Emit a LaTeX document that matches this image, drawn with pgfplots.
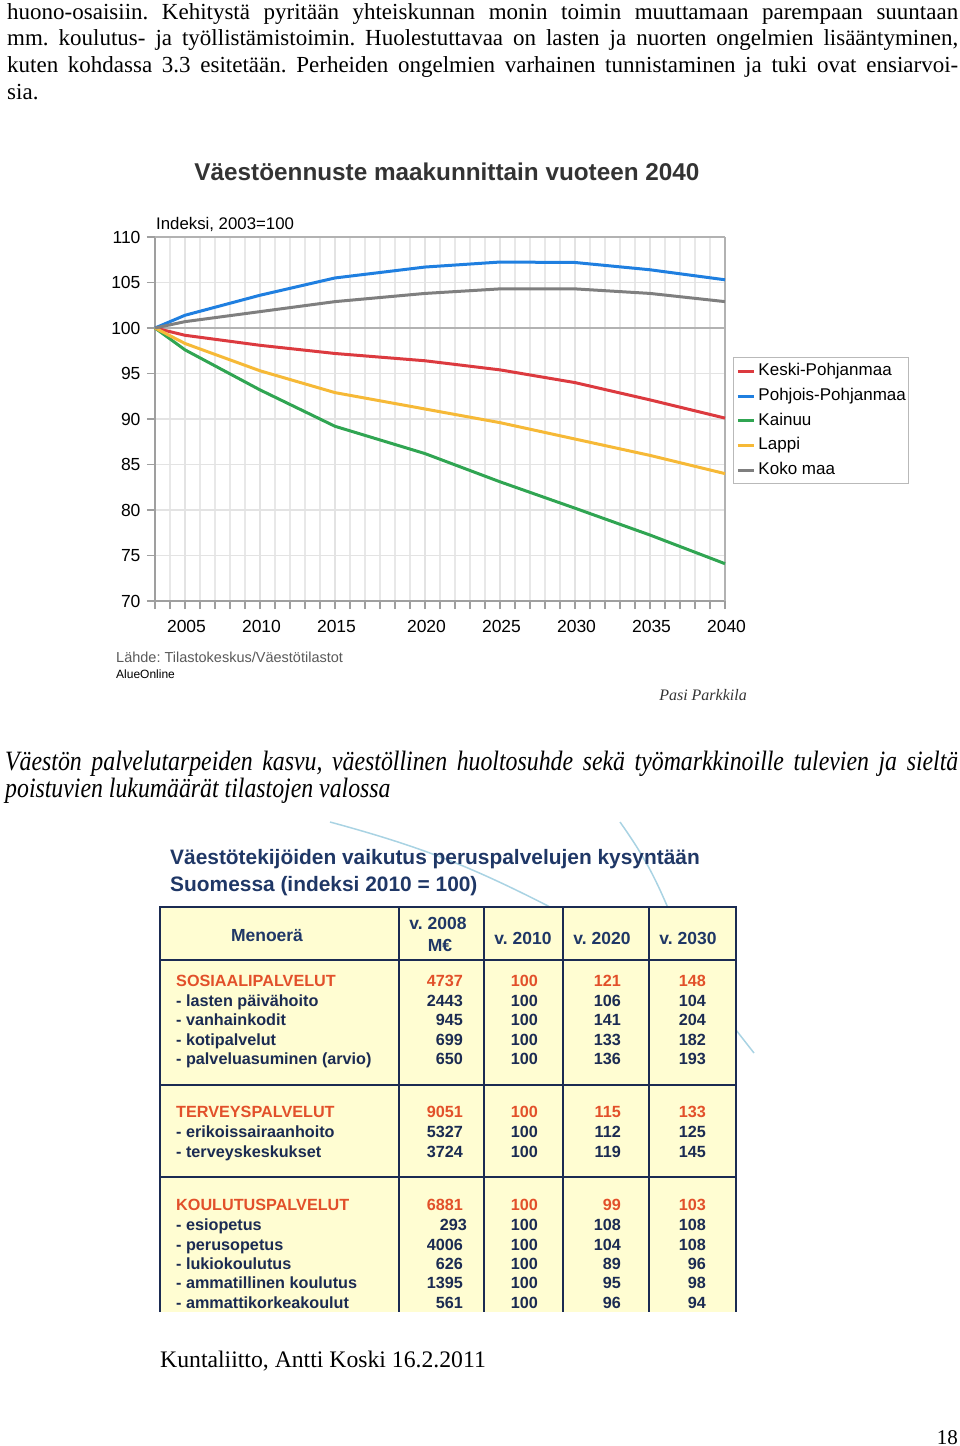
\documentclass[border=0pt]{standalone}
\usepackage{pgfplots}
\pgfplotsset{compat=1.18}
\usepackage{pgfplotstable}
\usepackage{fontspec}
\setmainfont{Liberation Serif}
\newfontfamily\arial{Liberation Sans}
\newfontfamily\condit[FakeStretch=0.85]{Liberation Serif}
\frenchspacing
\definecolor{cred}{HTML}{DC3A3F}
\definecolor{cblue}{HTML}{1F7FE0}
\definecolor{cgreen}{HTML}{30A552}
\definecolor{cyellow}{HTML}{F6B937}
\definecolor{cgray}{HTML}{7F7F7F}
\definecolor{navy}{HTML}{1B2B52}
\definecolor{tnavy}{HTML}{1F3766}
\definecolor{orng}{HTML}{E2502A}
\definecolor{tyellow}{HTML}{FFFDD2}
\definecolor{lblue}{HTML}{A9D3E3}
\definecolor{ttl}{HTML}{333333}

\pgfplotstableread{
x kp pp ka la km
0 100 100 100 100 100
2 99.2 101.4 97.6 98.3 100.7
7 98.1 103.6 93.2 95.3 101.8
12 97.2 105.5 89.2 92.9 102.9
18 96.4 106.7 86.2 91.1 103.8
23 95.4 107.25 83.1 89.6 104.3
28 94.0 107.2 80.2 87.8 104.3
33 92.1 106.4 77.25 86.0 103.8
38 90.1 105.3 74.1 84.0 102.9
}\data

\newcommand{\trow}[7]{%
  \node[tl, text=#7] at (176,#1) {#2};
  \node[tr, text=#7] at (463,#1) {#3};
  \node[tr, text=#7] at (538,#1) {#4};
  \node[tr, text=#7] at (621,#1) {#5};
  \node[tr, text=#7] at (706,#1) {#6};
}

\begin{document}
\begin{tikzpicture}
\path[use as bounding box] (0,0) rectangle (960pt,-1446pt);
\begin{scope}[x=1pt,y=-1pt,
  tl/.style={anchor=base west, inner sep=0, font=\arial\bfseries\fontsize{16.2}{16}\selectfont},
  tr/.style={anchor=base east, inner sep=0, font=\arial\bfseries\fontsize{16.2}{16}\selectfont},
  th/.style={anchor=base, inner sep=0, font=\arial\bfseries\fontsize{17.5}{17.5}\selectfont, text=tnavy}]
% top paragraph
\node[anchor=base west, inner sep=0] at (7,19) {\fontsize{23}{26.7}\selectfont\makebox[951pt][s]{huono-osaisiin. Kehitystä pyritään yhteiskunnan monin toimin muuttamaan parempaan suuntaan}};
\node[anchor=base west, inner sep=0] at (7,45.7) {\fontsize{23}{26.7}\selectfont\makebox[951pt][s]{mm. koulutus- ja työllistämistoimin. Huolestuttavaa on lasten ja nuorten ongelmien lisääntyminen,}};
\node[anchor=base west, inner sep=0] at (7,72.4) {\fontsize{23}{26.7}\selectfont\makebox[951pt][s]{kuten kohdassa 3.3 esitetään. Perheiden ongelmien varhainen tunnistaminen ja tuki ovat ensiarvoi-}};
\node[anchor=base west, inner sep=0] at (7,99.1) {\fontsize{23}{26.7}\selectfont sia.};
% chart texts
\node[anchor=base, inner sep=0, text=ttl] at (447,180) {\arial\bfseries\fontsize{24.3}{24}\selectfont Väestöennuste maakunnittain vuoteen 2040};
\node[anchor=base west, inner sep=0] at (156,229) {\arial\fontsize{16.8}{16}\selectfont Indeksi, 2003=100};
\node[anchor=base west, inner sep=0, text=black!65] at (116,662) {\arial\fontsize{14.5}{14}\selectfont Lähde: Tilastokeskus/Väestötilastot};
\node[anchor=base west, inner sep=0] at (116,678.5) {\arial\fontsize{12}{12}\selectfont AlueOnline};
\node[anchor=base east, inner sep=0, text=black!80] at (747,700) {\fontsize{16}{16}\selectfont\itshape Pasi Parkkila};
% italic heading
\node[anchor=base west, inner sep=0] at (5,770) {\condit\itshape\fontsize{28}{27}\selectfont\makebox[953pt][s]{Väestön palvelutarpeiden kasvu, väestöllinen huoltosuhde sekä työmarkkinoille tulevien ja sieltä}};
\node[anchor=base west, inner sep=0] at (5,797) {\condit\itshape\fontsize{28}{27}\selectfont poistuvien lukumäärät tilastojen valossa};
% decorative lines
\draw[lblue, line width=1.5pt] (330,822) to[bend left=6] (552,908);
\draw[lblue, line width=1.5pt] (620,822) to[bend left=6] (668,908);
\draw[lblue, line width=1.5pt] (736,1030) -- (754,1053);
% table image title
\node[anchor=base west, inner sep=0, text=tnavy] at (170,864) {\arial\bfseries\fontsize{20.9}{21}\selectfont Väestötekijöiden vaikutus peruspalvelujen kysyntään};
\node[anchor=base west, inner sep=0, text=tnavy] at (170,891) {\arial\bfseries\fontsize{20.9}{21}\selectfont Suomessa (indeksi 2010 = 100)};
% table
\fill[tyellow] (160,907) rectangle (736,1312);
\draw[navy, line width=2pt] (160,1312) -- (160,907) -- (736,907) -- (736,1312);
\foreach \xx in {399,484,563,649} \draw[navy, line width=2.2pt] (\xx,907) -- (\xx,1312);
\foreach \yy in {960,1085,1177} \draw[navy, line width=2.2pt] (160,\yy) -- (736,\yy);
\node[th] at (267,941) {Menoerä};
\node[th] at (438,929) {v. 2008};
\node[th] at (440,951) {M€};
\node[th] at (523,944) {v. 2010};
\node[th] at (602,944) {v. 2020};
\node[th] at (688,944) {v. 2030};
\trow{986}{SOSIAALIPALVELUT}{4737}{100}{121}{148}{orng}
\trow{1006}{- lasten päivähoito}{2443}{100}{106}{104}{navy}
\trow{1025}{- vanhainkodit}{945}{100}{141}{204}{navy}
\trow{1045}{- kotipalvelut}{699}{100}{133}{182}{navy}
\trow{1064}{- palveluasuminen (arvio)}{650}{100}{136}{193}{navy}
\trow{1117}{TERVEYSPALVELUT}{9051}{100}{115}{133}{orng}
\trow{1137}{- erikoissairaanhoito}{5327}{100}{112}{125}{navy}
\trow{1157}{- terveyskeskukset}{3724}{100}{119}{145}{navy}
\trow{1210}{KOULUTUSPALVELUT}{6881}{100}{99}{103}{orng}
\node[tl, text=navy] at (176,1230) {- esiopetus};
\node[tr, text=navy] at (467,1230) {293};
\node[tr, text=navy] at (538,1230) {100};
\node[tr, text=navy] at (621,1230) {108};
\node[tr, text=navy] at (706,1230) {108};
\trow{1250}{- perusopetus}{4006}{100}{104}{108}{navy}
\trow{1269}{- lukiokoulutus}{626}{100}{89}{96}{navy}
\trow{1288}{- ammatillinen koulutus}{1395}{100}{95}{98}{navy}
\trow{1308}{- ammattikorkeakoulut}{561}{100}{96}{94}{navy}
% bottom
\node[anchor=base west, inner sep=0] at (160,1367) {\fontsize{23.7}{23.5}\selectfont Kuntaliitto, Antti Koski 16.2.2011};
\node[anchor=base east, inner sep=0] at (958,1444) {\fontsize{21}{21}\selectfont 18};
\end{scope}

\begin{axis}[at={(155pt,-601pt)}, anchor=south west, scale only axis,
  width=570pt, height=364pt, xmin=0, xmax=38, ymin=70, ymax=110,
  axis x line*=bottom, axis y line*=left,
  axis line style={gray!75, line width=1.2pt},
  xtick={2,7,12,18,23,28,33,38},
  xticklabels={2005,2010,2015,2020,2025,2030,2035,2040},
  minor xtick={0,...,38},
  ytick={70,75,...,110},
  tick align=outside, major tick length=8pt, minor tick length=8pt,
  tick style={gray!75, line width=1.2pt},
  xmajorgrids, xminorgrids, ymajorgrids,
  major grid style={gray!22, line width=1.2pt},
  minor grid style={gray!18, line width=1.2pt},
  extra y ticks={100,110}, extra y tick labels={},
  extra y tick style={grid=major, major grid style={gray!60, line width=1.2pt}},
  /pgf/number format/assume math mode=true,
  ticklabel style={font=\arial\fontsize{17.5}{17}\selectfont, text=black},
  xticklabel style={yshift=-8pt, xshift=1.5pt},
  yticklabel style={xshift=-3pt},
  clip=false,
  legend style={at={(1.014,0.670)}, anchor=north west, draw=gray!55, line width=1pt,
    font=\arial\fontsize{17}{17}\selectfont, inner xsep=3pt, inner ysep=6pt,
    nodes={inner sep=0pt, text height=12pt, text depth=3.5pt}, row sep=9.2pt},
  legend cell align=left,
  legend image code/.code={\draw[#1, line width=3pt] (0pt,0pt) -- (16pt,0pt);},
  /tikz/every even column/.append style={column sep=0pt},
  /tikz/every odd column/.append style={column sep=3pt},
]
\draw[gray!60, line width=1.2pt] (axis cs:38,70) -- (axis cs:38,110);
\addplot[cred, line width=3pt, line join=round] table[x=x,y=kp]{\data};
\addlegendentry{Keski-Pohjanmaa}
\addplot[cblue, line width=3pt, line join=round] table[x=x,y=pp]{\data};
\addlegendentry{Pohjois-Pohjanmaa}
\addplot[cgreen, line width=3pt, line join=round] table[x=x,y=ka]{\data};
\addlegendentry{Kainuu}
\addplot[cyellow, line width=3pt, line join=round] table[x=x,y=la]{\data};
\addlegendentry{Lappi}
\addplot[cgray, line width=3pt, line join=round] table[x=x,y=km]{\data};
\addlegendentry{Koko maa}
\end{axis}
\end{tikzpicture}
\end{document}
